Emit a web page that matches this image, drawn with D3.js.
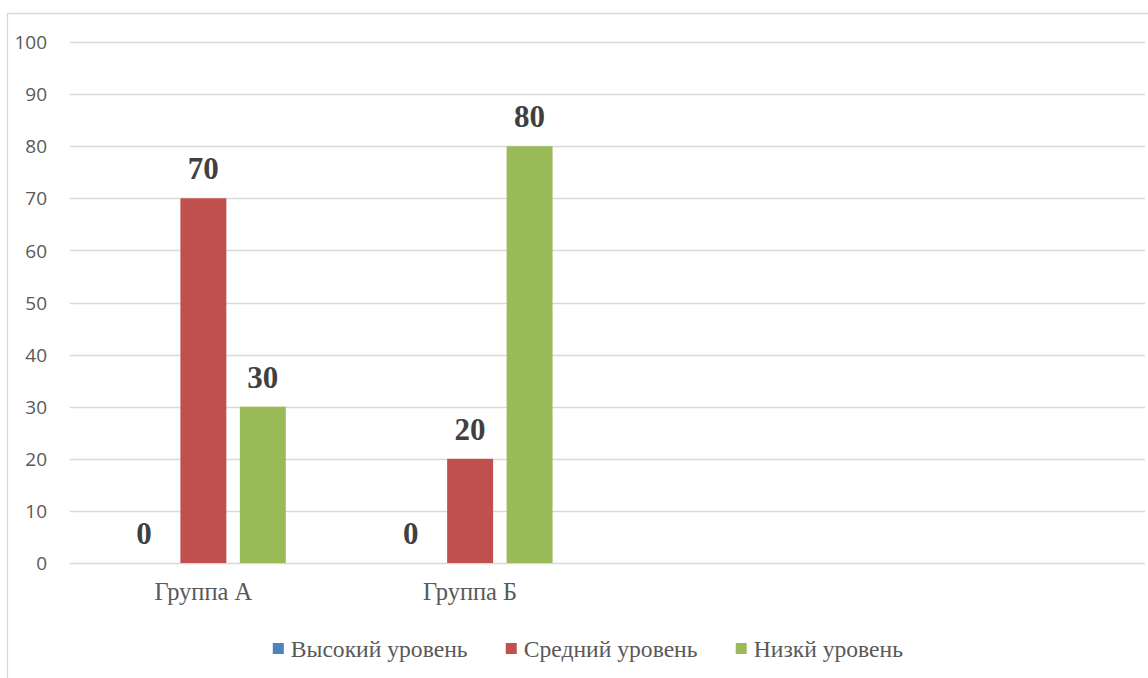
<!DOCTYPE html>
<html>
<head>
<meta charset="utf-8">
<script src="https://cdn.jsdelivr.net/npm/d3@7"></script>
<style>
  body { margin: 0; background: #fff; }
  .serif { font-family: "Liberation Serif", "Times New Roman", serif; }
</style>
</head>
<body>
<div id="chart"></div>
<script>
// данные диаграммы
const categories = ["Группа А", "Группа Б", "", " "];
const seriesNames = ["Высокий уровень", "Средний уровень", "Низкй уровень"];
const seriesColors = ["#4F81BD", "#C0504D", "#9BBB59"];
const vysokiy = [0, 0, null, null];
const sredniy = [70, 20, null, null];
const nizkiy = [30, 80, null, null];
const yTicks = [0, 10, 20, 30, 40, 50, 60, 70, 80, 90, 100];

const seriesValues = [vysokiy, sredniy, nizkiy];

const width = 1148, height = 678;
const margin = { left: 70, right: 3, top: 42, bottom: 115 };

const svg = d3.select("#chart").append("svg")
    .attr("width", width)
    .attr("height", height)
    .style("background-color", "white");

// рамка области диаграммы
svg.append("path")
    .attr("d", `M7.5,${height} V13.5 H${width}`)
    .attr("fill", "none")
    .attr("stroke", "#d9d9d9")
    .attr("stroke-width", 1.3);

const y = d3.scaleLinear()
    .domain([0, 100])
    .range([height - margin.bottom, margin.top]);

const x0 = d3.scaleBand()
    .domain(categories)
    .range([margin.left, width - margin.right - 8])
    .paddingInner(0.382)
    .paddingOuter(0.191);

const x1 = d3.scaleBand()
    .domain(d3.range(seriesNames.length))
    .range([0, x0.bandwidth()])
    .paddingInner(0.227);

// сетка
svg.append("g")
    .selectAll("line")
    .data(yTicks)
    .join("line")
    .attr("x1", margin.left)
    .attr("x2", width - margin.right)
    .attr("y1", d => Math.round(y(d)) + 0.5)
    .attr("y2", d => Math.round(y(d)) + 0.5)
    .attr("stroke", "#d9d9d9")
    .attr("stroke-width", 1.3);

// ось Y
const yAxis = svg.append("g")
    .attr("transform", `translate(${margin.left - 23},0)`)
    .call(d3.axisLeft(y).tickValues(yTicks).tickSize(0).tickPadding(0));
yAxis.select(".domain").remove();
yAxis.selectAll("text")
    .attr("font-family", "'Open Sans', sans-serif")
    .attr("font-size", 19)
    .attr("fill", "#595959")
    .attr("dy", "0.35em");

// подписи категорий
const xAxis = svg.append("g")
    .attr("transform", `translate(0,${y(0)})`)
    .call(d3.axisBottom(x0).tickSize(0).tickPadding(0));
xAxis.select(".domain").remove();
xAxis.attr("font-family", null);
xAxis.selectAll("text")
    .attr("class", "serif")
    .attr("font-size", 24.5)
    .attr("fill", "#595959")
    .attr("dy", "1.5em");

// столбцы
const groups = svg.append("g")
    .selectAll("g")
    .data(categories)
    .join("g")
    .attr("transform", d => `translate(${x0(d)},0)`);

const cells = groups.selectAll("g")
    .data((d, ci) => seriesValues.map((vals, si) => ({ si, v: vals[ci] })).filter(e => e.v !== null))
    .join("g");

cells.append("rect")
    .attr("x", d => x1(d.si))
    .attr("y", d => y(d.v))
    .attr("width", x1.bandwidth())
    .attr("height", d => y(0) - y(d.v))
    .attr("fill", d => seriesColors[d.si]);

cells.append("text")
    .attr("class", "serif")
    .attr("x", d => x1(d.si) + x1.bandwidth() / 2)
    .attr("y", d => y(d.v) - 19)
    .attr("text-anchor", "middle")
    .attr("font-weight", "bold")
    .attr("font-size", 31)
    .attr("fill", "#404040")
    .text(d => d.v);

// легенда
const legend = svg.append("g");
const items = legend.selectAll("g")
    .data(seriesNames)
    .join("g");
items.append("rect")
    .attr("width", 11)
    .attr("height", 11)
    .attr("y", -14)
    .attr("fill", (d, i) => seriesColors[i]);
items.append("text")
    .attr("class", "serif")
    .attr("x", 18)
    .attr("y", 0)
    .attr("font-size", 23.6)
    .attr("fill", "#595959")
    .text(d => d);

let offset = 0;
const gap = 38;
items.each(function() {
  const w = this.getBBox().width;
  d3.select(this).attr("transform", `translate(${offset},0)`);
  offset += w + gap;
});
const total = offset - gap;
legend.attr("transform", `translate(${588 - total / 2},657)`);
</script>
</body>
</html>
